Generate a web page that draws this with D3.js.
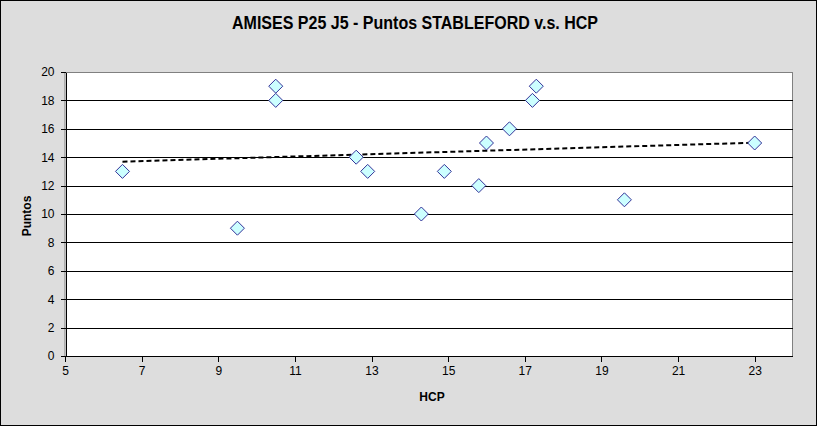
<!DOCTYPE html>
<html><head><meta charset="utf-8">
<script src="https://cdn.jsdelivr.net/npm/d3@7"></script>
<style>body{margin:0;background:#fff}svg{display:block}</style>
</head><body>
<script>
const hcp =    [6.5, 9.5, 10.5, 10.5, 12.6, 12.9, 14.3, 14.9, 15.8, 16.0, 16.6, 17.2, 17.3, 19.6, 23.0];
const puntos = [13,  9,   19,   18,   14,   13,   10,   13,   12,   15,   16,   18,   19,   11,   15];
const xTicks = [5, 7, 9, 11, 13, 15, 17, 19, 21, 23];
const yTicks = [0, 2, 4, 6, 8, 10, 12, 14, 16, 18, 20];
const title = "AMISES P25 J5 - Puntos STABLEFORD v.s. HCP";

const W = 817, H = 426;
const L = 65, R = 793, T = 72, B = 356;
const svg = d3.select("body").append("svg").attr("width", W).attr("height", H);
const font = "Arial, 'Liberation Sans', sans-serif";

svg.append("rect").attr("x", 0.5).attr("y", 0.5).attr("width", W - 1).attr("height", H - 1)
  .attr("fill", "#DDDDDD").attr("stroke", "#000").attr("stroke-width", 1);
svg.append("rect").attr("x", L).attr("y", T + 0.5).attr("width", R - L - 0.5).attr("height", B - T)
  .attr("fill", "#fff").attr("stroke", "#808080").attr("stroke-width", 1);

const x = d3.scaleLinear().domain([5, 24]).range([L, R]);
const y = d3.scaleLinear().domain([0, 20]).range([B, T]);

// gridlines
svg.append("g").selectAll("line").data(yTicks.filter(v => v > 0 && v < 20)).join("line")
  .attr("x1", L).attr("x2", R).attr("y1", d => Math.round(y(d)) + 0.5).attr("y2", d => Math.round(y(d)) + 0.5)
  .attr("stroke", "#000").attr("stroke-width", 1);

// axes
const yAxis = svg.append("g").attr("transform", `translate(${L + 0.5},0)`)
  .call(d3.axisLeft(y).tickValues(yTicks).tickSize(5).tickSizeOuter(0).tickPadding(6));
const xAxis = svg.append("g").attr("transform", `translate(0,${B + 0.5})`)
  .call(d3.axisBottom(x).tickValues(xTicks).tickSize(5).tickSizeOuter(0).tickPadding(5));
[yAxis, xAxis].forEach(g => {
  g.selectAll("path,line").attr("stroke", "#000").attr("shape-rendering", "crispEdges");
  g.selectAll("text").attr("font-family", font).attr("font-size", 12).attr("fill", "#000");
});
xAxis.select("path.domain").attr("d", `M${L},0H${R}`);

// trendline (least squares)
const mx = d3.mean(hcp), my = d3.mean(puntos);
const slope = d3.sum(hcp, (v, i) => (v - mx) * (puntos[i] - my)) / d3.sum(hcp, v => (v - mx) ** 2);
const icpt = my - slope * mx;
const [x0, x1] = d3.extent(hcp);
svg.append("line").attr("x1", x(x0)).attr("x2", x(x1))
  .attr("y1", y(icpt + slope * x0)).attr("y2", y(icpt + slope * x1))
  .attr("stroke", "#000").attr("stroke-width", 2).attr("stroke-dasharray", "5,3");

// points
const dm = 7;
svg.append("g").selectAll("path").data(hcp.map((v, i) => [v, puntos[i]])).join("path")
  .attr("d", d => `M${x(d[0])},${y(d[1]) - dm}L${x(d[0]) + dm},${y(d[1])}L${x(d[0])},${y(d[1]) + dm}L${x(d[0]) - dm},${y(d[1])}Z`)
  .attr("fill", "#CCFFFF").attr("stroke", "#333399").attr("stroke-width", 1);

// titles
svg.append("text").attr("x", 415).attr("y", 29).attr("text-anchor", "middle")
  .attr("font-family", font).attr("font-size", 18).attr("font-weight", "bold")
  .attr("textLength", 366).attr("lengthAdjust", "spacingAndGlyphs").text(title);
svg.append("text").attr("x", 432).attr("y", 401).attr("text-anchor", "middle")
  .attr("font-family", font).attr("font-size", 12).attr("font-weight", "bold").text("HCP");
svg.append("text").attr("transform", "translate(31,216) rotate(-90)").attr("text-anchor", "middle")
  .attr("font-family", font).attr("font-size", 12).attr("font-weight", "bold").text("Puntos");
</script>
</body></html>
